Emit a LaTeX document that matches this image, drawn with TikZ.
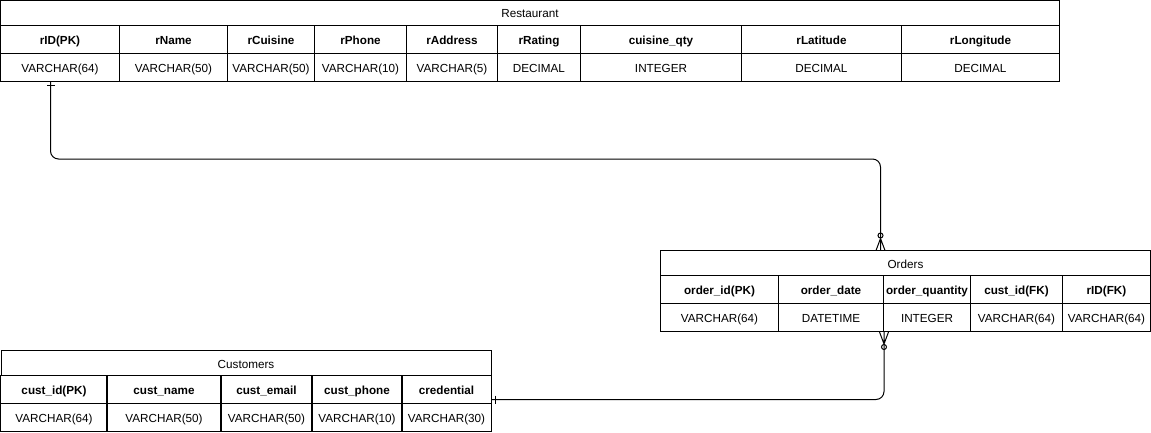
\documentclass[tikz,border=0pt]{standalone}
\usepackage{fontspec}
\setmainfont{Liberation Sans}
\usetikzlibrary{arrows.meta}
\usetikzlibrary{calc, matrix, positioning}

% crow's foot and single bar tips
\pgfdeclarearrow{
  name = ERone,
  setup code = {
    \pgfarrowssettipend{0pt}
    \pgfarrowssetlineend{0pt}
    \pgfarrowssetbackend{-5pt}
  },
  drawing code = {
    \pgfpathmoveto{\pgfpoint{-4pt}{-4pt}}
    \pgfpathlineto{\pgfpoint{-4pt}{4pt}}
    \pgfusepathqstroke
  }
}
\pgfdeclarearrow{
  name = ERmany,
  setup code = {
    \pgfarrowssettipend{0pt}
    \pgfarrowssetlineend{-12pt}
    \pgfarrowssetbackend{-12pt}
  },
  drawing code = {
    \pgfpathmoveto{\pgfpoint{-12pt}{0pt}}
    \pgfpathlineto{\pgfpoint{0pt}{4.5pt}}
    \pgfpathmoveto{\pgfpoint{-12pt}{0pt}}
    \pgfpathlineto{\pgfpoint{0pt}{-4.5pt}}
    \pgfpathmoveto{\pgfpoint{-12pt}{0pt}}
    \pgfpathlineto{\pgfpoint{0pt}{0pt}}
    \pgfusepathqstroke
  }
}

\tikzstyle{attr}=[rectangle, draw, minimum height=28pt, text height=11pt, text depth=1pt, inner xsep=1pt, outer sep=0pt]
\tikzstyle{tabtitle}=[rectangle, draw, minimum height=25pt, text height=11pt, text depth=1pt, outer sep=0pt]
\tikzstyle{hdr}=[font=\bfseries\fontsize{11.7pt}{14pt}\selectfont]
\tikzstyle{ertable}=[matrix of nodes, nodes={attr}, row 1/.style={nodes={hdr}}, column sep=-1pt, row sep=-1pt, inner sep=0pt, outer sep=0pt, anchor=north west]
\tikzstyle{rel}=[rounded corners=8pt, {ERone}-{Circle[open, length=6pt, width=6pt] ERmany}]

\begin{document}
\begin{tikzpicture}[x=1pt, y=-1pt]

\tikzset{every node/.style={font=\fontsize{11.7pt}{14pt}\selectfont}}
\tikzset{every path/.style={line width=1pt}}

\useasboundingbox (0,0) rectangle (1151,433);

% Restaurant table
\matrix (rest) [
    ampersand replacement=\&,
    ertable,
    column 1/.style={nodes={minimum width=119pt}},
    column 2/.style={nodes={minimum width=108pt}},
    column 3/.style={nodes={minimum width=87pt}},
    column 4/.style={nodes={minimum width=92pt}},
    column 5/.style={nodes={minimum width=91pt}},
    column 6/.style={nodes={minimum width=83pt}},
    column 7/.style={nodes={minimum width=161pt}},
    column 8/.style={nodes={minimum width=160pt}},
    column 9/.style={nodes={minimum width=158pt}},
] at (0,25)
{
    rID(PK) \& rName \& rCuisine \& rPhone \& rAddress \& rRating \& cuisine\_qty \& rLatitude \& rLongitude \\
    VARCHAR(64) \& VARCHAR(50) \& VARCHAR(50) \& VARCHAR(10) \& VARCHAR(5) \& DECIMAL \& INTEGER \& DECIMAL \& DECIMAL \\
};
\node[tabtitle, minimum width=1059pt, above=-0.5pt of rest] (rest-title) {Restaurant};

% Orders table
\matrix (ord) [
    ampersand replacement=\&,
    ertable,
    column 1/.style={nodes={minimum width=118pt}},
    column 2/.style={nodes={minimum width=105pt}},
    column 3/.style={nodes={minimum width=87pt}},
    column 4/.style={nodes={minimum width=92pt}},
    column 5/.style={nodes={minimum width=88pt}},
] at (660,275)
{
    order\_id(PK) \& order\_date \& order\_quantity \& cust\_id(FK) \& rID(FK) \\
    VARCHAR(64) \& DATETIME \& INTEGER \& VARCHAR(64) \& VARCHAR(64) \\
};
\node[tabtitle, minimum width=490pt, above=-0.5pt of ord] (ord-title) {Orders};

% Customers table
\matrix (cust) [
    ampersand replacement=\&,
    ertable,
    column 1/.style={nodes={minimum width=106pt}},
    column 2/.style={nodes={minimum width=114pt}},
    column 3/.style={nodes={minimum width=91pt}},
    column 4/.style={nodes={minimum width=90pt}},
    column 5/.style={nodes={minimum width=89pt}},
] at (0.5,375)
{
    cust\_id(PK) \& cust\_name \& cust\_email \& cust\_phone \& credential \\
    VARCHAR(64) \& VARCHAR(50) \& VARCHAR(50) \& VARCHAR(10) \& VARCHAR(30) \\
};
\node[tabtitle, minimum width=490pt, above=-0.5pt of cust] (cust-title) {Customers};

% Relationships
\draw[rel] ([xshift=-9.5pt]rest-2-1.south) -- ++(0,77.5) -| ([xshift=-25pt]ord-title.north); % restaurant -> orders
\draw[rel] ([yshift=4pt]cust.east) -| ([xshift=-21.5pt]ord.south); % customers -> orders

\end{tikzpicture}
\end{document}
